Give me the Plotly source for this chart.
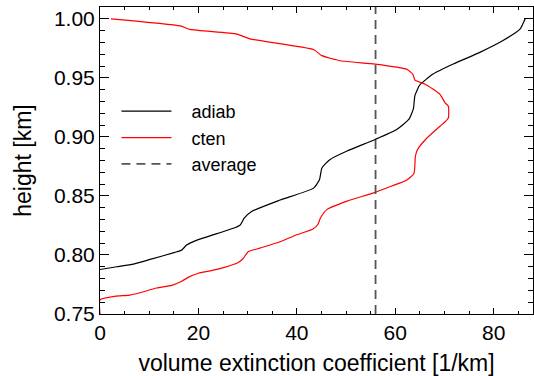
import plotly.graph_objects as go

# adiab profile: extinction [1/km] vs height [km]
adiab_ext = [0, 3.4, 6.8, 10.2, 15.2, 16.6, 17.6, 19.7, 27.1, 28.5, 29.3, 30.8, 36.6,
             43.4, 44.6, 45.1, 46.7, 50.1, 55.9, 60.3, 62.8, 63.7, 64.0, 65.0, 67.7,
             71.8, 77.2, 81.9, 85.4, 86.4]
adiab_h = [0.7877, 0.790, 0.7922, 0.7962, 0.8022, 0.8041, 0.8084, 0.8126, 0.8226, 0.8254,
           0.8311, 0.8368, 0.8465, 0.8566, 0.8637, 0.8737, 0.8807, 0.8878, 0.8978, 0.9063,
           0.915, 0.924, 0.935, 0.944, 0.9532, 0.9617, 0.9716, 0.9816, 0.9915, 1.0]

# cten profile
cten_ext = [0, 0, 3.0, 6.1, 8.1, 11.5, 14.6, 16.6, 17.9, 20.0, 22.4, 25.1, 28.1, 29.1,
            30.1, 32.5, 36.6, 40.0, 43.3, 44.3, 44.8, 46.1, 50.2, 55.6, 59.4, 62.2, 63.8,
            64.1, 64.5, 66.2, 69.1, 70.2, 70.8, 70.8, 70.1, 69.1, 66.1, 64.0, 63.6, 62.3,
            55.9, 48.8, 45.0, 43.4, 30.5, 27.8, 18.3, 16.3, 2.2]
cten_h = [0.75, 0.762, 0.765, 0.766, 0.768, 0.772, 0.7743, 0.7777, 0.781, 0.7845, 0.7865,
          0.7893, 0.7936, 0.797, 0.8027, 0.8058, 0.8112, 0.8171, 0.822, 0.826, 0.8313,
          0.8384, 0.8456, 0.8526, 0.8586, 0.863, 0.869, 0.8836, 0.889, 0.898, 0.909, 0.913,
          0.916, 0.926, 0.929, 0.936, 0.9446, 0.948, 0.953, 0.9574, 0.9617, 0.9645, 0.969,
          0.974, 0.983, 0.987, 0.991, 0.994, 1.000]

average_ext = 56.0

x_range = [0, 88]
y_range = [0.75, 1.01]
x_ticks = [0, 20, 40, 60, 80]
y_ticks = [0.75, 0.80, 0.85, 0.90, 0.95, 1.00]

FONT = "Liberation Sans, Arial, sans-serif"
PAD = "\u00a0\u00a0\u00a0"

fig = go.Figure()
fig.add_trace(go.Scatter(x=adiab_ext, y=adiab_h, mode="lines", name=PAD + "adiab",
                         line=dict(color="black", width=1.2, shape="spline", smoothing=0.5)))
fig.add_trace(go.Scatter(x=cten_ext, y=cten_h, mode="lines", name=PAD + "cten",
                         line=dict(color="red", width=1.2, shape="spline", smoothing=0.5)))
fig.add_trace(go.Scatter(x=[average_ext, average_ext], y=y_range, mode="lines",
                         name=PAD + "average",
                         line=dict(color="#555555", width=1.8, dash="9px,6px")))

fig.update_layout(
    width=534, height=376,
    margin=dict(l=100, r=1, t=7, b=62),
    plot_bgcolor="white", paper_bgcolor="white",
    font=dict(family=FONT, size=20, color="black"),
    showlegend=True,
    legend=dict(x=0.038, y=0.72, xanchor="left", yanchor="top",
                bgcolor="rgba(0,0,0,0)", font=dict(size=18),
                itemwidth=50, tracegroupgap=0),
)
fig.update_xaxes(
    range=x_range, tickvals=x_ticks, ticktext=[str(v) for v in x_ticks],
    tickfont=dict(size=21), automargin=False,
    showgrid=False, zeroline=False, showline=True, linecolor="black", linewidth=1,
    mirror="allticks", ticks="inside", ticklen=6, tickcolor="black",
    minor=dict(dtick=5, ticks="inside", ticklen=3, tickcolor="black", showgrid=False),
    title=dict(text="volume extinction coefficient [1/km]", font=dict(size=23)),
)
fig.update_yaxes(
    range=y_range, tickvals=y_ticks, ticktext=["%.2f" % v for v in y_ticks],
    tickfont=dict(size=21), automargin=False,
    showgrid=False, zeroline=False, showline=True, linecolor="black", linewidth=1,
    mirror="allticks", ticks="inside", ticklen=9, tickcolor="black",
    minor=dict(dtick=0.01, ticks="inside", ticklen=5, tickcolor="black", showgrid=False),
    title=dict(text="height [km]", font=dict(size=23)),
)

fig.write_html("out.html", config={"displayModeBar": False},
               post_script="document.body.style.margin='0';")
